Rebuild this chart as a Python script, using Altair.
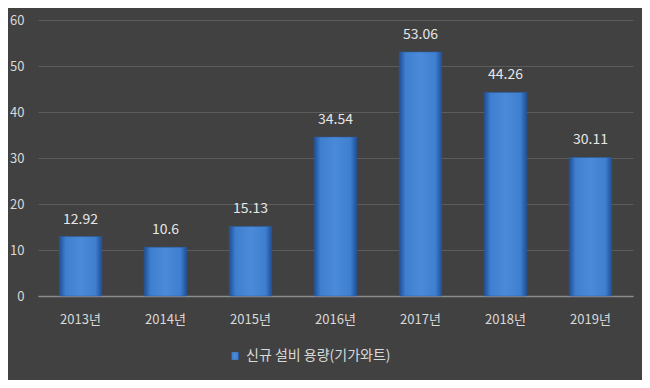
import altair as alt
import pandas as pd

years = ["2013년", "2014년", "2015년", "2016년", "2017년", "2018년", "2019년"]
values = [12.92, 10.6, 15.13, 34.54, 53.06, 44.26, 30.11]
series = "신규 설비 용량(기가와트)"

df = pd.DataFrame({"year": years, "value": values, "series": [series] * len(years)})
df["label"] = ["12.92", "10.6", "15.13", "34.54", "53.06", "44.26", "30.11"]

FONT = "Noto Sans CJK KR"

x = alt.X("year:N", sort=years, title=None,
          scale=alt.Scale(paddingInner=0.5, paddingOuter=0.25),
          axis=alt.Axis(labelAngle=0, labelColor="#d9d9d9", labelFontSize=13,
                        labelFont=FONT, labelPadding=17, ticks=False,
                        domainColor="#8c8c8c", domainWidth=1.5, grid=False))
y = alt.Y("value:Q", title=None,
          scale=alt.Scale(domain=[0, 60], nice=False),
          axis=alt.Axis(values=[0, 10, 20, 30, 40, 50, 60], labelColor="#d9d9d9",
                        labelFontSize=13, labelFont=FONT, labelPadding=14,
                        ticks=False, domain=False, gridColor="#5c5c5c", gridWidth=1))

grad = alt.Gradient(gradient="linear", x1=0, x2=1, y1=0, y2=0,
                    stops=[alt.GradientStop(color="#1f4f95", offset=0),
                           alt.GradientStop(color="#3f7fd0", offset=0.15),
                           alt.GradientStop(color="#4a8ad8", offset=0.5),
                           alt.GradientStop(color="#3f7fd0", offset=0.85),
                           alt.GradientStop(color="#1f4f95", offset=1)])

bars = alt.Chart(df).mark_bar(color=grad, stroke="#2a5ea8", strokeWidth=0.5).encode(
    x=x, y=y,
    opacity=alt.Opacity("series:N", scale=alt.Scale(range=[1]),
                        legend=alt.Legend(title=None, orient="none", legendX=190, legendY=329,
                                          symbolType="square", symbolFillColor="#3f7fd0",
                                          symbolStrokeColor="#1f4f95", symbolSize=60,
                                          labelColor="#d9d9d9", labelFontSize=14,
                                          labelFont=FONT, labelOffset=4)),
)

text = alt.Chart(df).mark_text(baseline="bottom", dy=-10, color="#e6e6e6",
                               fontSize=14, font=FONT).encode(
    x=alt.X("year:N", sort=years), y="value:Q", text="label:N")

chart = (bars + text).properties(
    width=595, height=276,
    background="#414141",
    autosize=alt.AutoSizeParams(type="none"),
    padding={"left": 30, "top": 12, "right": 9, "bottom": 84},
).configure_view(stroke=None)

chart.save("out.html", embed_options={"renderer": "svg", "actions": False})
